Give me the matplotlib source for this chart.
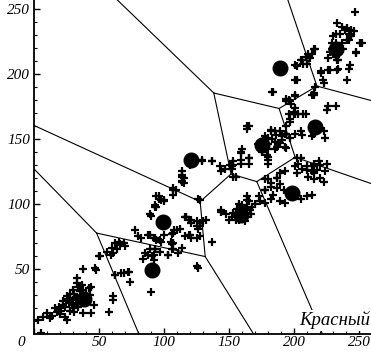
import numpy as np
import matplotlib.pyplot as plt
from matplotlib.transforms import ScaledTranslation

# cluster centres (big dots); the Voronoi cells are built from them
center_x = [189, 216, 121, 175, 198.5, 99, 91, 38.5, 232, 159]
center_y = [204.5, 159, 134, 145.5, 108.5, 86, 49, 27, 219, 91.5]

# observed points (plus markers)
plus_pts = [
    # lower left group
    (5, 1), (3, 11), (7, 13), (12, 12), (10, 16), (16, 20), (19, 21), (21, 18), (24, 13), (25, 11),
    (22, 25), (25, 29), (28, 31), (30, 34), (33, 39), (33, 43), (35, 29), (37, 25), (38, 34), (40, 31),
    (42, 35), (44, 36), (46, 22), (44, 16), (38, 16), (31, 17), (34, 21), (28, 18), (20, 15), (38, 50),
    (48, 49), (50, 60), (56, 63), (60, 66), (62, 70), (65, 71), (70, 68), (62, 45), (67, 47), (72, 48),
    (74, 40), (61, 29), (61, 26), (58, 17), (90, 32), (78, 80), (82, 74), (84, 58), (88, 61), (92, 61),
    (92, 57), (88, 76), (92, 74), (94, 72), (93, 65), (97, 63), (98, 71), (100, 76), (103, 61), (106, 65),
    (107, 70), (106, 77), (108, 80), (112, 81), (114, 66), (90, 91), (93, 99), (94, 106), (100, 102),
    (107, 107), (107, 112), (114, 118), (114, 122), (117, 90), (116, 75),
    (27, 24), (30, 26), (32, 28), (29, 22), (35, 33), (31, 31), (26, 27), (36, 26), (33, 24), (39, 28),
    (41, 27), (28, 28), (24, 21), (34, 36), (37, 38), (30, 20), (43, 30), (18, 17), (14, 14), (22, 22),
    # second group
    (115, 120), (114, 125), (115, 116), (120, 130), (109, 111), (96, 106), (98, 103), (94, 98), (89, 92),
    (80, 75), (89, 76), (93, 74), (97, 72), (105, 71), (107, 78), (110, 80), (116, 90), (119, 88),
    (121, 85), (119, 76), (121, 74), (125, 74), (125, 83), (69, 70), (66, 69), (64, 65), (61, 62),
    (59, 61), (51, 60), (85, 62), (89, 65), (93, 65), (91, 60), (103, 61), (107, 65), (111, 62),
    (106, 69), (62, 45), (69, 47), (73, 48), (47, 51), (125, 52),
    (164, 158), (159, 140), (165, 135), (165, 131), (159, 131), (153, 130), (152, 127), (144, 125),
    (155, 121), (129, 133), (137, 133), (114, 121), (114, 117), (107, 111), (96, 104), (100, 103),
    (93, 98), (126, 104), (144, 95), (117, 90), (121, 88), (128, 85), (132, 88), (126, 81), (164, 103),
    # middle group
    (144, 94), (155, 88), (159, 95), (164, 98), (167, 92), (161, 90), (157, 90), (153, 93), (165, 102),
    (174, 102), (173, 106), (178, 101), (182, 104), (184, 107), (189, 102), (193, 101), (192, 111),
    (187, 112), (182, 113), (178, 111), (180, 119), (187, 120), (189, 124), (193, 125), (210, 106),
    (205, 104), (202, 124), (214, 125), (215, 124), (128, 103), (125, 87), (130, 87), (128, 83),
    (120, 76), (128, 75), (137, 71), (126, 51),
    (156, 96), (160, 92), (162, 96), (158, 88), (163, 93), (166, 95), (152, 90), (155, 92), (168, 98),
    (170, 100), (150, 88), (160, 99), (164, 90), (158, 100), (162, 87), (148, 92),
    # upper middle group
    (202, 206), (207, 208), (201, 195), (183, 186), (201, 184), (214, 184), (221, 201), (194, 179),
    (198, 177), (200, 171), (196, 169), (201, 169), (207, 169), (197, 163), (194, 160), (182, 156),
    (189, 156), (193, 154), (197, 151), (205, 156), (206, 153), (214, 152), (164, 160), (185, 148),
    (191, 149), (193, 144), (194, 143), (185, 142), (179, 138), (180, 134), (160, 142), (165, 135),
    (159, 134), (153, 133), (151, 130), (147, 127), (143, 129), (153, 121), (205, 135), (201, 129),
    (206, 127), (210, 126), (215, 129), (219, 133), (211, 121), (215, 119), (220, 120), (223, 117),
    (178, 119), (182, 116), (187, 120), (189, 115), (178, 111), (164, 106), (214, 107), (223, 156),
    (224, 151), (176, 150), (172, 146), (178, 152), (183, 150), (186, 153), (180, 146), (175, 140),
    (188, 147),
    # upper right group
    (247, 248), (237, 236), (232, 231), (229, 224), (228, 217), (226, 212), (233, 211), (238, 219),
    (242, 226), (246, 233), (244, 229), (241, 235), (252, 224), (248, 217), (243, 207), (241, 195),
    (233, 203), (226, 203), (221, 202), (223, 193), (225, 172), (232, 175), (215, 184), (202, 195),
    (184, 186), (216, 219), (214, 215), (209, 213), (205, 211), (201, 207), (210, 208), (194, 181),
    (201, 183), (197, 179), (201, 174), (200, 169), (203, 169), (209, 169), (197, 165), (165, 160),
    (182, 157), (185, 156), (191, 152), (194, 154), (201, 154), (215, 154), (180, 151), (187, 144),
    (189, 147), (180, 142), (180, 136), (180, 131), (159, 139), (202, 135), (203, 131), (210, 129),
    (215, 131), (220, 130), (225, 131), (218, 126), (224, 125), (137, 133), (129, 134), (152, 129),
    (251, 224), (248, 216), (242, 204), (234, 204), (228, 203), (222, 195), (216, 190), (215, 185),
    (206, 211), (211, 215), (215, 219), (212, 212), (196, 180), (226, 175),
    (233, 239), (239, 234), (242, 231), (243, 229), (230, 229), (232, 224), (229, 219), (232, 213),
    (237, 224), (241, 226), (235, 231), (244, 234), (234, 211),
]
plus_x = [p[0] for p in plus_pts]
plus_y = [p[1] for p in plus_pts]

xticks = [0, 50, 100, 150, 200, 250]
yticks = [50, 100, 150, 200, 250]
axis_label = 'Красный'


def clip_halfplane(poly, a, b, c):
    # keep the part of the polygon where a*x + b*y <= c
    out = []
    n = len(poly)
    for k in range(n):
        p, q = poly[k], poly[(k + 1) % n]
        fp = a * p[0] + b * p[1] - c
        fq = a * q[0] + b * q[1] - c
        if fp <= 0:
            out.append(p)
        if fp * fq < 0:
            t = fp / (fp - fq)
            out.append((p[0] + t * (q[0] - p[0]), p[1] + t * (q[1] - p[1])))
    return out


def voronoi_edges(xs, ys, big=1000):
    pts = np.column_stack([xs, ys])
    edges = []
    for i, pi in enumerate(pts):
        poly = [(-big, -big), (big, -big), (big, big), (-big, big)]
        for j, pj in enumerate(pts):
            if i == j:
                continue
            a, b = 2 * (pj - pi)
            c = pj @ pj - pi @ pi
            poly = clip_halfplane(poly, a, b, c)
        for k in range(len(poly)):
            p, q = np.array(poly[k]), np.array(poly[(k + 1) % len(poly)])
            m = (p + q) / 2
            if np.max(np.abs(m)) > big * 0.99:
                continue
            d = np.hypot(*(pts - m).T)
            d[i] = np.inf
            if i < np.argmin(d):
                edges.append((p, q))
    return edges


fig = plt.figure(figsize=(3.71, 3.54), dpi=100)
ax = fig.add_axes([34 / 371, 20 / 354, 337 / 371, 334 / 354])

for p, q in voronoi_edges(center_x, center_y):
    ax.plot([p[0], q[0]], [p[1], q[1]], color='black', lw=0.8, zorder=1)

ax.plot(plus_x, plus_y, '+', color='black', ms=6, mew=1.6, zorder=2)
ax.plot(center_x, center_y, 'o', color='black', ms=10.5, zorder=3)

ax.set_xlim(0, 259.2)
ax.set_ylim(0, 256.9)
for s in ['top', 'right']:
    ax.spines[s].set_visible(False)
for s in ['left', 'bottom']:
    ax.spines[s].set_linewidth(1.3)

ax.set_xticks(xticks)
ax.set_yticks(yticks)
ax.set_xticks(np.arange(10, 260, 10), minor=True)
ax.set_yticks(np.arange(10, 257, 10), minor=True)
ax.tick_params(which='major', direction='in', length=4, width=1.0, pad=3)
ax.tick_params(axis='x', which='major', pad=1.5)
ax.tick_params(which='minor', direction='in', length=2, width=0.8)

font = dict(family='Liberation Serif', style='italic', size=11)
ax.set_xticklabels([str(t) for t in xticks], fontdict=font)
ax.set_yticklabels([str(t) for t in yticks], fontdict=font)
zero = ax.get_xticklabels()[0]
zero.set_transform(zero.get_transform() + ScaledTranslation(-0.13, 0, fig.dpi_scale_trans))

ax.text(258.5, 10.5, axis_label, ha='right', va='center', zorder=5,
        family='Liberation Serif', style='italic', size=13.5,
        bbox=dict(facecolor='white', edgecolor='none', pad=1))

fig.savefig('out.png', dpi=100)
